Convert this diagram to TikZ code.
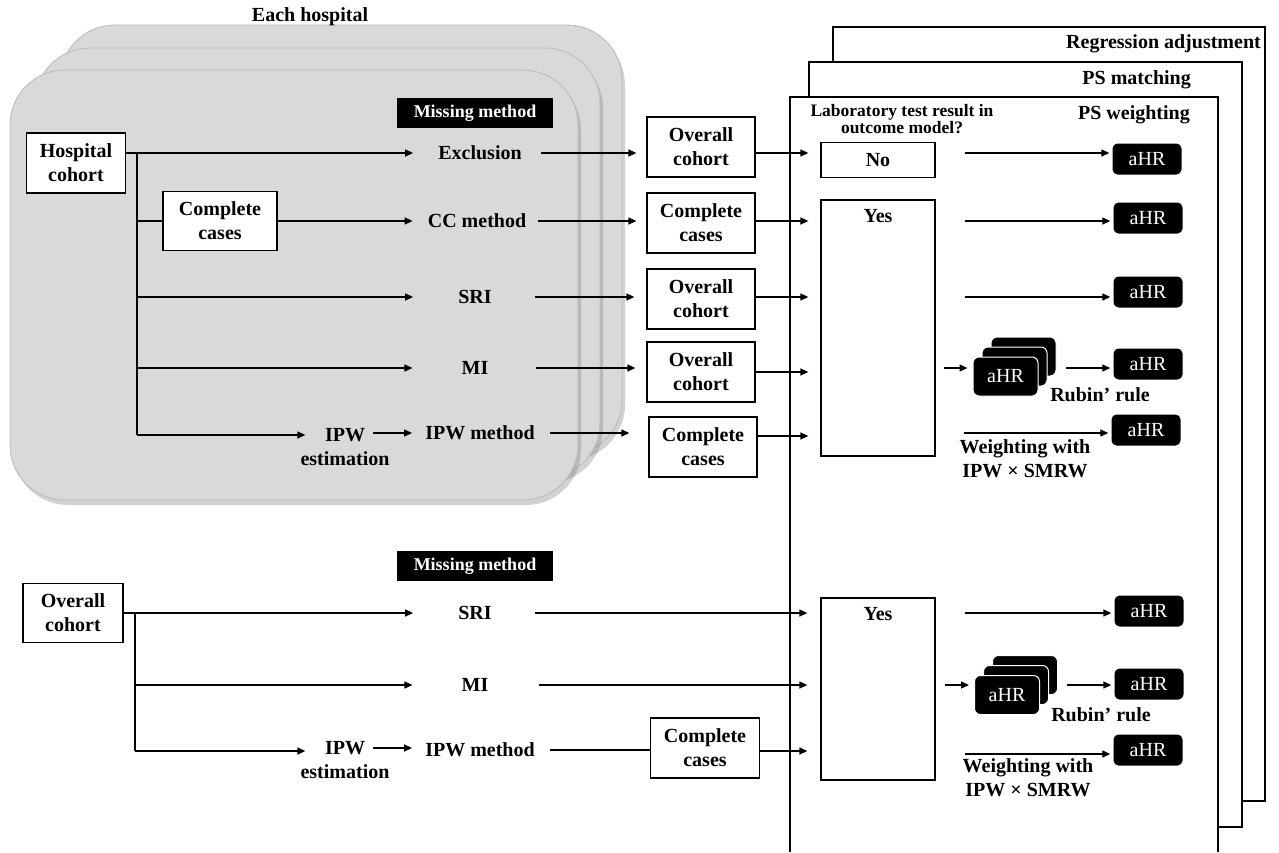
\documentclass[tikz,border=0pt]{standalone}
\usepackage{fontspec}
\setmainfont{Liberation Serif}
\usetikzlibrary{arrows.meta,shadows}
\begin{document}
\begin{tikzpicture}[x=1pt,y=-1pt,
  every node/.style={font=\bfseries\fontsize{20}{24}\selectfont, inner sep=0pt},
  box/.style={draw, fill=white, line width=1.3pt, align=center, minimum width=#1, minimum height=60pt},
  box/.default=108pt,
  arr/.style={line width=1.3pt, -{Triangle[length=8pt,width=7pt]}},
  ln/.style={line width=1.3pt},
  ahr/.style={fill=black, text=white, rounded corners=5pt, minimum width=69pt, minimum height=31pt, font=\fontsize{20}{24}\selectfont},
  stk/.style={fill=black, draw=white, line width=1pt, text=white, rounded corners=6pt, minimum width=65pt, minimum height=39pt, font=\fontsize{20}{24}\selectfont},
  mm/.style={fill=black, text=white, minimum width=156pt, minimum height=30pt, font=\bfseries\fontsize{18}{20}\selectfont},
  card/.style={fill=gray!30, draw=gray!55, line width=0.8pt, rounded corners=55pt, drop shadow={shadow xshift=3pt, shadow yshift=-5pt, opacity=0.35}},
  frm/.style={draw, fill=white, line width=1.3pt},
  yesbox/.style={draw, fill=white, line width=1.3pt, minimum width=114pt, minimum height=#1},
]
\useasboundingbox (0,0) rectangle (1279,852);
\fill[white] (0,0) rectangle (1279,852);

% ---------- gray stack ----------
\path[card] (60,25) rectangle (622,455);
\path[card] (35,48) rectangle (600,478);
\path[card] (10,70) rectangle (578,500);
\node (each) at (310,17) {Each hospital};

% ---------- PS frames ----------
\path[frm] (833,27) rectangle (1265,801);
\path[frm] (809,62) rectangle (1242,827);
\fill[white] (790,97) rectangle (1218,852);
\draw[line width=1.3pt] (790,852) -- (790,97) -- (1218,97) -- (1218,852);
\node[anchor=east] (lreg) at (1261,44) {Regression adjustment};
\node[anchor=east] (lmat) at (1191,80) {PS matching};
\node[anchor=east] (lwt) at (1190,115) {PS weighting};
\node[align=center, font=\bfseries\fontsize{17.5}{15}\selectfont] (lab) at (902,119) {Laboratory test result in\\outcome model?};

% ---------- top section ----------
\node[mm] (mm1) at (475,113) {Missing method};
\node[box=99pt] (hc) at (76,163) {Hospital\\cohort};
\node[box=114pt, minimum height=59pt] (cc1) at (220,221) {Complete\\cases};
\node (excl) at (480,153) {Exclusion};
\node (ccm) at (477,221) {CC method};
\node (sri1) at (475,297) {SRI};
\node (mi1) at (475,368) {MI};
\node[align=center] (ipwe1) at (345,447) {IPW\\estimation};
\node (ipwm1) at (480,433) {IPW method};
\coordinate (b1) at (137,153);
\coordinate (b1e) at (137,435);
\coordinate (ip1) at ([xshift=28pt,yshift=14pt]ipwe1.center);

\node[box] (oc1) at (701,147) {Overall\\cohort};
\node[box] (ccb1) at (701,223) {Complete\\cases};
\node[box] (oc2) at (701,299) {Overall\\cohort};
\node[box] (oc3) at (701,372) {Overall\\cohort};
\node[box] (ccb2) at (703,447) {Complete\\cases};

\node[yesbox=35pt] (no) at (878,160) {No};
\node[yesbox=256pt, label={[anchor=north, yshift=-10pt]north:Yes}] (yes1) at (878,328) {};

\node[ahr] (ahr1) at (1147,159) {aHR};
\node[ahr] (ahr2) at (1148,218) {aHR};
\node[ahr] (ahr3) at (1148,292) {aHR};
\node[stk] (st1b) at (1023.5,356.5) {};
\node[stk] (st1m) at (1014.5,366.5) {};
\node[stk] (st1f) at (1005.5,376.5) {aHR};
\node[ahr] (ahr4) at (1148,364) {aHR};
\node[ahr] (ahr5) at (1146,430) {aHR};
\node (rub1) at (1100,395) {Rubin’ rule};
\node[align=center] (wt1) at (1025,459) {Weighting with\\IPW × SMRW};

% connectors top
\draw[arr, shorten >=25pt] ([yshift=10pt]hc.east) -- (excl.west);
\draw[ln] (b1) -- (b1e);
\draw[ln] (b1 |- cc1) -- (cc1.west);
\draw[arr, shorten >=15pt] (cc1.east) -- (ccm.west);
\draw[arr, shorten >=45pt] (b1 |- sri1) -- (sri1.west);
\draw[arr, shorten >=49pt] (b1 |- mi1) -- (mi1.west);
\draw[arr] (b1e) -- ([xshift=5pt,yshift=12pt]ipwe1.west);
\draw[arr, shorten >=13pt] (ip1) -- (ipwm1.west |- ip1);

\draw[arr, shorten <=19pt, shorten >=10pt] (excl.east) -- (excl.east -| oc1.west);
\draw[arr, shorten <=12pt, shorten >=10pt] (ccm.east) -- (ccm.east -| ccb1.west);
\draw[arr, shorten <=43pt, shorten >=12pt] (sri1.east) -- (sri1.east -| oc2.west);
\draw[arr, shorten <=47pt, shorten >=11pt] (mi1.east) -- (mi1.east -| oc3.west);
\draw[arr, shorten <=15pt, shorten >=19pt] (ipwm1.east) -- (ipwm1.east -| ccb2.west);

\draw[arr, shorten >=12pt] (oc1.east |- excl) -- (no.west |- excl);
\draw[arr, shorten >=12pt] (ccb1.east |- ccm) -- (yes1.west |- ccm);
\draw[arr, shorten >=12pt] (oc2.east |- sri1) -- (yes1.west |- sri1);
\draw[arr, shorten >=12pt] (oc3.east) -- (oc3.east -| yes1.west);
\draw[arr, shorten >=12pt] ([yshift=11pt]ccb2.east) -- ([yshift=11pt]ccb2.east -| yes1.west);

\draw[arr, shorten <=29pt, shorten >=3pt] (no.east |- excl) -- (ahr1.west |- excl);
\draw[arr, shorten <=29pt, shorten >=3pt] (yes1.east |- ccm) -- (ahr2.west |- ccm);
\draw[arr, shorten <=29pt, shorten >=3pt] (yes1.east |- sri1) -- (ahr3.west |- sri1);
\draw[arr, shorten <=8pt, shorten >=5pt] (yes1.east |- mi1) -- (st1f.west |- mi1);
\draw[arr, shorten <=9pt, shorten >=3pt] (st1b.east |- mi1) -- (ahr4.west |- mi1);
\draw[arr, shorten <=28pt, shorten >=3pt] (yes1.east |- ipwm1) -- (ahr5.west |- ipwm1);

% ---------- bottom section ----------
\node[mm] (mm2) at (475,566) {Missing method};
\node[box=100pt, minimum height=59pt] (ocb) at (73,613) {Overall\\cohort};
\node (sri2) at (475,613) {SRI};
\node (mi2) at (475,685) {MI};
\node[align=center] (ipwe2) at (345,760) {IPW\\estimation};
\node (ipwm2) at (480,750) {IPW method};
\coordinate (b2) at (135,613);
\coordinate (b2e) at (135,751);
\coordinate (ip2) at ([xshift=28pt,yshift=12pt]ipwe2.center);
\node[box=109pt] (ccb3) at (705,748) {Complete\\cases};
\node[yesbox=182pt, label={[anchor=north, yshift=-10pt]north:Yes}] (yes2) at (878,689) {};

\node[ahr] (ahrb1) at (1149,611) {aHR};
\node[stk] (st2b) at (1025,675) {};
\node[stk] (st2m) at (1016,685) {};
\node[stk] (st2f) at (1007,695) {aHR};
\node[ahr] (ahrb2) at (1149,684) {aHR};
\node[ahr] (ahrb3) at (1148,750) {aHR};
\node (rub2) at (1101,715) {Rubin’ rule};
\node[align=center] (wt2) at (1028,778) {Weighting with\\IPW × SMRW};

\draw[arr, shorten >=45pt] (ocb.east) -- (sri2.west);
\draw[ln] (b2) -- (b2e);
\draw[arr, shorten >=49pt] (b2 |- mi2) -- (mi2.west);
\draw[arr] (b2e) -- ([xshift=5pt,yshift=9pt]ipwe2.west);
\draw[arr, shorten >=13pt] (ip2) -- (ipwm2.west |- ip2);

\draw[arr, shorten <=43pt, shorten >=13pt] (sri2.east) -- (sri2.east -| yes2.west);
\draw[arr, shorten <=50pt, shorten >=13pt] (mi2.east) -- (mi2.east -| yes2.west);
\draw[ln, shorten <=15pt] (ipwm2.east) -- (ipwm2.east -| ccb3.west);
\draw[arr, shorten >=13pt] ([yshift=-3pt]ccb3.east) -- ([yshift=-3pt]ccb3.east -| yes2.west);

\draw[arr, shorten <=29pt, shorten >=3pt] (yes2.east |- sri2) -- (ahrb1.west |- sri2);
\draw[arr, shorten <=9pt, shorten >=5pt] (yes2.east |- mi2) -- (st2f.west |- mi2);
\draw[arr, shorten <=9pt, shorten >=3pt] (st2b.east |- mi2) -- (ahrb2.west |- mi2);
\draw[arr, shorten <=29pt, shorten >=3pt] ([yshift=-4pt]yes2.east |- ipwm2) -- ([yshift=-4pt]ahrb3.west |- ipwm2);
\end{tikzpicture}
\end{document}
